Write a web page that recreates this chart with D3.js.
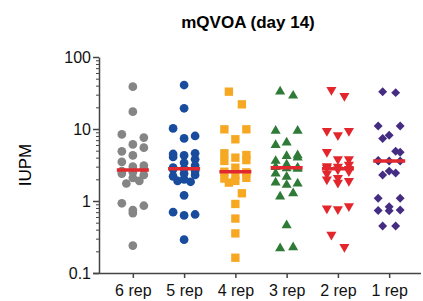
<!DOCTYPE html>
<html>
<head>
<meta charset="utf-8">
<script src="https://cdn.jsdelivr.net/npm/d3@7"></script>
<style>
  body { margin: 0; background: #fff; }
  text { font-family: "Liberation Sans", Arial, sans-serif; }
</style>
</head>
<body>
<svg class="chart"></svg>
<script>
const categories = ['6 rep', '5 rep', '4 rep', '3 rep', '2 rep', '1 rep'];
const rep6 = [38.7, 17.4, 8.4, 7.6, 6.1, 5.5, 4.9, 4.3, 3.5, 3.1, 3.0, 2.8, 2.6, 2.5, 2.4, 2.3, 2.1, 1.9, 1.75, 0.93, 0.86, 0.75, 0.68, 0.24];
const rep5 = [40.8, 19.4, 10.2, 8.0, 7.4, 4.6, 4.5, 4.3, 4.1, 3.8, 3.4, 3.1, 2.9, 2.8, 2.75, 2.6, 2.4, 2.3, 2.2, 2.0, 1.9, 1.85, 1.2, 0.7, 0.65, 0.63, 0.29];
const rep4 = [33, 22, 9.9, 9.9, 7.2, 4.6, 4.35, 4.0, 3.7, 3.6, 2.9, 2.55, 2.5, 2.3, 2.1, 2.05, 1.9, 1.8, 1.28, 0.91, 0.57, 0.355, 0.163];
const rep3 = [33, 29, 9.4, 9.4, 6.5, 6.0, 4.3, 4.2, 4.0, 3.6, 3.2, 2.95, 2.9, 2.85, 2.8, 2.4, 2.17, 1.8, 1.75, 1.67, 1.28, 1.15, 0.46, 0.227, 0.22];
const rep2 = [34.8, 28.8, 9.4, 9.4, 8.2, 4.8, 3.8, 3.8, 3.2, 3.05, 3.0, 2.9, 2.8, 2.75, 2.6, 2.4, 2.1, 2.0, 1.9, 1.8, 0.85, 0.79, 0.77, 0.34, 0.23];
const rep1 = [33, 32, 11, 11, 8.2, 7.4, 4.9, 4.75, 3.65, 3.6, 3.6, 3.6, 2.6, 2.45, 2.3, 1.09, 1.09, 0.83, 0.75, 0.74, 0.73, 0.45, 0.45];
const yTicks = [0.1, 1, 10, 100];

const series = [rep6, rep5, rep4, rep3, rep2, rep1];
const colors = ['#858585', '#1a4c9e', '#f7a823', '#2f7a37', '#e2262b', '#432c82'];
const symbols = [
  {type: d3.symbolCircle, size: 60, rot: 0},
  {type: d3.symbolCircle, size: 60, rot: 0},
  {type: d3.symbolSquare, size: 70, rot: 0},
  {type: d3.symbolTriangle, size: 44, rot: 0},
  {type: d3.symbolTriangle, size: 44, rot: 180},
  {type: d3.symbolSquare, size: 40, rot: 45}
];

const width = 423, height = 301;
const svg = d3.select('.chart').attr('width', width).attr('height', height);

const x = d3.scalePoint().domain(categories).range([99, 423]).padding(0.66);
const y = d3.scaleLog().domain([0.1, 100]).range([273, 57]);

// y axis with minor ticks
const minor = [];
[0.1, 1, 10].forEach(d => { for (let k = 2; k <= 9; k++) minor.push(d * k); });
svg.append('g')
  .attr('transform', 'translate(99,0)')
  .call(d3.axisLeft(y).tickValues(minor).tickSize(3).tickFormat(''))
  .call(g => g.select('.domain').remove())
  .call(g => g.selectAll('line').attr('stroke', '#444').attr('stroke-width', 1));
svg.append('g')
  .attr('transform', 'translate(99,0)')
  .call(d3.axisLeft(y).tickValues(yTicks).tickSize(6).tickSizeOuter(0).tickPadding(2).tickFormat(d => d3.format('~g')(d)))
  .call(g => g.select('.domain').attr('stroke', '#444').attr('stroke-width', 1.5))
  .call(g => g.selectAll('line').attr('stroke', '#444').attr('stroke-width', 1.5))
  .call(g => g.selectAll('text').attr('font-size', 16).attr('fill', '#111'));

svg.append('g')
  .attr('transform', 'translate(0,273)')
  .call(d3.axisBottom(x).tickSize(5).tickSizeOuter(0).tickPadding(7))
  .call(g => g.select('.domain').attr('d', 'M93,0.5H421').attr('stroke', '#444').attr('stroke-width', 1.5))
  .call(g => g.selectAll('line').attr('stroke', '#444').attr('stroke-width', 1.5))
  .call(g => g.selectAll('text').attr('font-size', 16).attr('fill', '#111'));

// rows of up to three points, like a scatter dot plot
function spread(values) {
  const pts = values.map(v => ({v, py: y(v)})).sort((a, b) => a.py - b.py);
  const rows = [];
  pts.forEach(p => {
    const row = rows[rows.length - 1];
    if (row && row.length < 3 && p.py - row[0].py < 13) row.push(p); else rows.push([p]);
  });
  rows.forEach((row, r) => {
    const side = r % 2 ? 1 : -1;
    if (row.length === 1) row[0].dx = 0;
    if (row.length === 2) { row[0].dx = 6.5 * side; row[1].dx = -6.5 * side; }
    if (row.length === 3) { row[0].dx = 11 * side; row[1].dx = -11 * side; row[2].dx = 0; }
  });
  return pts;
}

series.forEach((vals, i) => {
  const cx = x(categories[i]);
  const sym = d3.symbol().type(symbols[i].type).size(symbols[i].size);
  svg.append('g').selectAll('path')
    .data(spread(vals))
    .enter().append('path')
    .attr('d', sym)
    .attr('transform', d => 'translate(' + (cx + d.dx) + ',' + d.py + ') rotate(' + symbols[i].rot + ')')
    .attr('fill', colors[i]);
  const med = d3.median(vals);
  svg.append('line')
    .attr('x1', cx - 16).attr('x2', cx + 16)
    .attr('y1', y(med)).attr('y2', y(med))
    .attr('stroke', '#e0282e').attr('stroke-width', 3.5);
});

svg.append('text')
  .attr('x', 248).attr('y', 28)
  .attr('text-anchor', 'middle')
  .attr('font-size', 17).attr('font-weight', 'bold')
  .text('mQVOA (day 14)');

svg.append('text')
  .attr('transform', 'translate(31,165) rotate(-90)')
  .attr('text-anchor', 'middle')
  .attr('font-size', 17)
  .text('IUPM');
</script>
</body>
</html>
